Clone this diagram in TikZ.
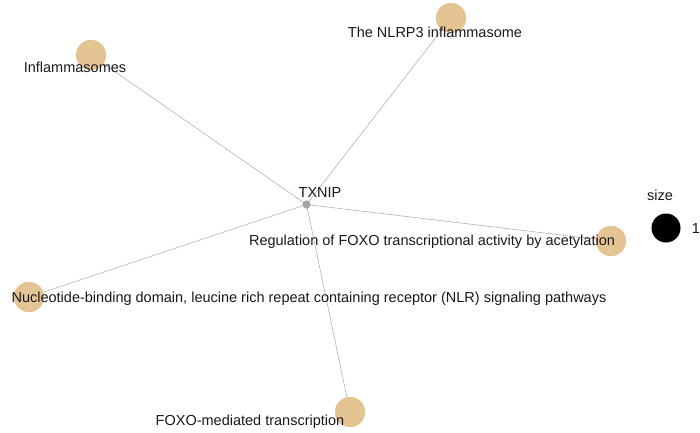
\documentclass[tikz,border=0pt]{standalone}
\usepackage{fontspec}
\setmainfont{Liberation Sans}
\begin{document}
\begin{tikzpicture}[x=1pt,y=-1pt,
  edge/.style={draw=black!30, line width=0.6pt},
  term/.style={circle, fill=termc, minimum size=30pt, inner sep=0pt},
  lbl/.style={font=\fontsize{14.5}{16}\selectfont, inner sep=0pt, text=black!90},
  hub/.style={circle, fill=black!35, minimum size=8pt, inner sep=0pt}]
\definecolor{termc}{HTML}{E5C494}
\useasboundingbox (0,0) rectangle (700,432);
\node[term] (inf) at (91,55) {};
\node[term] (nlrp) at (451,18) {};
\node[term] (foxa) at (611,241) {};
\node[term] (nlr) at (29,297) {};
\node[term] (foxm) at (350,412) {};
\node[hub] (tx) at (306.5,204.5) {};
\draw[edge] (tx.center) -- (inf.center);
\draw[edge] (tx.center) -- (nlrp.center);
\draw[edge] (tx.center) -- (foxa.center);
\draw[edge] (tx.center) -- (nlr.center);
\draw[edge] (tx.center) -- (foxm.center);
\node[term] at (inf) {};
\node[term] at (nlrp) {};
\node[term] at (foxa) {};
\node[term] at (nlr) {};
\node[term] at (foxm) {};
\node[hub] at (tx) {};
\node[lbl] (ltx) at (320,193) {TXNIP};
\node[lbl] (linf) at (75,67) {Inflammasomes};
\node[lbl] (lnlrp) at (435,32) {The NLRP3 inflammasome};
\node[lbl] (lfoxa) at (432,242) {Regulation of FOXO transcriptional activity by acetylation};
\node[lbl] (lnlr) at (309,299) {Nucleotide-binding domain, leucine rich repeat containing receptor (NLR) signaling pathways};
\node[lbl] (lfoxm) at (250,422) {FOXO-mediated transcription};
\node[lbl] (lsize) at (660,195) {size};
\node[circle, fill=black, minimum size=29pt, inner sep=0pt] (leg) at (666,228) {};
\node[lbl] (lone) at (696,229) {1};
\end{tikzpicture}
\end{document}
